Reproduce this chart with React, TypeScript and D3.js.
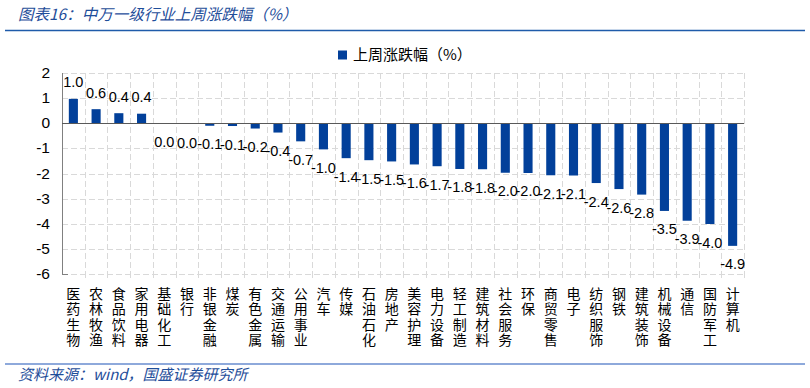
import React from "react";
import * as d3 from "d3";

const categories: string[] = [
  "医药生物", "农林牧渔", "食品饮料", "家用电器", "基础化工", "银行", "非银金融", "煤炭",
  "有色金属", "交通运输", "公用事业", "汽车", "传媒", "石油石化", "房地产", "美容护理",
  "电力设备", "轻工制造", "建筑材料", "社会服务", "环保", "商贸零售", "电子", "纺织服饰",
  "钢铁", "建筑装饰", "机械设备", "通信", "国防军工", "计算机",
];

const weeklyChange: number[] = [
  0.97, 0.56, 0.4, 0.38, -0.01, -0.03, -0.1, -0.11, -0.21, -0.37, -0.72, -1.04, -1.39, -1.47, -1.52,
  -1.64, -1.71, -1.82, -1.83, -1.97, -1.98, -2.07, -2.08, -2.38, -2.62, -2.84, -3.49, -3.88, -4.01, -4.88,
];

const yTicks: number[] = [2, 1, 0, -1, -2, -3, -4, -5, -6];

const titleText = "图表16：中万一级行业上周涨跌幅（%）";
const legendText = "上周涨跌幅（%）";
const sourceText = "资料来源：wind，国盛证券研究所";

const W = 810;
const H = 388;
const plotLeft = 62;
const plotRight = 744;
const plotTop = 73;
const plotBottom = 274;

const barColor = "#02409A";
const gridColor = "#d9d9d9";
const titleBlue = "#1F4E9A";

const numFont = "'Liberation Sans', Arial, sans-serif";
const cjkFont = "'Noto Sans CJK SC', sans-serif";

function fmt(v: number): string {
  const r = Math.round(v * 10) / 10;
  return (r === 0 ? 0 : r).toFixed(1);
}

export default function App() {
  const x = d3.scaleBand<string>().domain(categories).range([plotLeft, plotRight]).padding(0);
  const y = d3.scaleLinear().domain([-6, 2]).range([plotBottom, plotTop]);
  const bw = x.bandwidth() * 0.4;
  const step = x.step();

  return (
    <div style={{ position: "absolute", left: 0, top: 0, width: W, height: H, background: "#fff" }}>
      <svg width={W} height={H} viewBox={`0 0 ${W} ${H}`} style={{ display: "block" }}>
        <rect x={0} y={0} width={W} height={H} fill="#fff" />
        {/* Title */}
        <text x={18} y={20} fontFamily={cjkFont} fontStyle="italic" fontSize={15.5} fill={titleBlue}>
          {titleText}
        </text>
        <line x1={5} x2={805} y1={30.5} y2={30.5} stroke="#1F5BAA" strokeWidth={1.5} />

        {/* Legend */}
        <rect x={338} y={50.5} width={9} height={9} fill={barColor} />
        <text x={353} y={60} fontFamily={cjkFont} fontSize={15} fill="#000">
          {legendText}
        </text>

        {/* Horizontal gridlines */}
        {yTicks.filter((t) => t !== 0).map((t) => (
          <line key={"h" + t} x1={plotLeft} x2={plotRight} y1={Math.round(y(t)) + 0.5} y2={Math.round(y(t)) + 0.5}
            stroke={gridColor} strokeDasharray="6,3" />
        ))}
        {/* Vertical gridlines */}
        {categories.map((c, i) => {
          const xx = Math.round(plotLeft + step * (i + 1)) + 0.5;
          return (
            <g key={"v" + c}>
              <line x1={xx} x2={xx} y1={plotTop} y2={plotBottom} stroke={gridColor} strokeDasharray="6,3" />
              <line x1={xx} x2={xx} y1={plotBottom} y2={plotBottom + 4} stroke={gridColor} />
            </g>
          );
        })}

        {/* Left axis */}
        <line x1={plotLeft + 0.5} x2={plotLeft + 0.5} y1={plotTop} y2={plotBottom + 0.5} stroke="#808080" />
        <line x1={plotLeft} x2={plotLeft + 6} y1={Math.round(y(-6)) + 0.5} y2={Math.round(y(-6)) + 0.5} stroke="#808080" />
        {yTicks.map((t) => (
          <text key={"yt" + t} x={50} y={y(t) + 5} textAnchor="end" fontFamily={numFont} fontSize={15.5} fill="#000">
            {t}
          </text>
        ))}

        {/* Bars */}
        {categories.map((c, i) => {
          const v = weeklyChange[i];
          const cx = (x(c) as number) + x.bandwidth() / 2;
          const y0 = y(0);
          const y1 = y(v);
          return (
            <rect key={"b" + c} x={cx - bw / 2} y={Math.min(y0, y1)} width={bw} height={Math.abs(y1 - y0)} fill={barColor} />
          );
        })}

        {/* Zero line */}
        <line x1={plotLeft} x2={plotRight} y1={Math.round(y(0)) + 0.5} y2={Math.round(y(0)) + 0.5} stroke="#595959" />

        {/* Data labels */}
        {categories.map((c, i) => {
          const v = weeklyChange[i];
          const cx = (x(c) as number) + x.bandwidth() / 2;
          const ly = v > 0 ? y(v) - 11.5 : y(v) + 23.5;
          return (
            <text key={"l" + c} x={cx} y={ly} textAnchor="middle" fontFamily={numFont} fontSize={14.5} fill="#000">
              {fmt(v)}
            </text>
          );
        })}

        {/* Category labels (vertical) */}
        {categories.map((c) => {
          const cx = (x(c) as number) + x.bandwidth() / 2;
          return (
            <text key={"c" + c} fontFamily={cjkFont} fontSize={14} fill="#000" textAnchor="middle">
              {Array.from(c).map((ch, k) => (
                <tspan key={k} x={cx} y={299 + k * 15.3}>{ch}</tspan>
              ))}
            </text>
          );
        })}

        {/* Footer */}
        <line x1={5} x2={805} y1={364} y2={364} stroke="#8EA9DB" strokeWidth={2} />
        <text x={18} y={380} fontFamily={cjkFont} fontStyle="italic" fontSize={15} fill={titleBlue}>
          {sourceText}
        </text>
      </svg>
    </div>
  );
}
